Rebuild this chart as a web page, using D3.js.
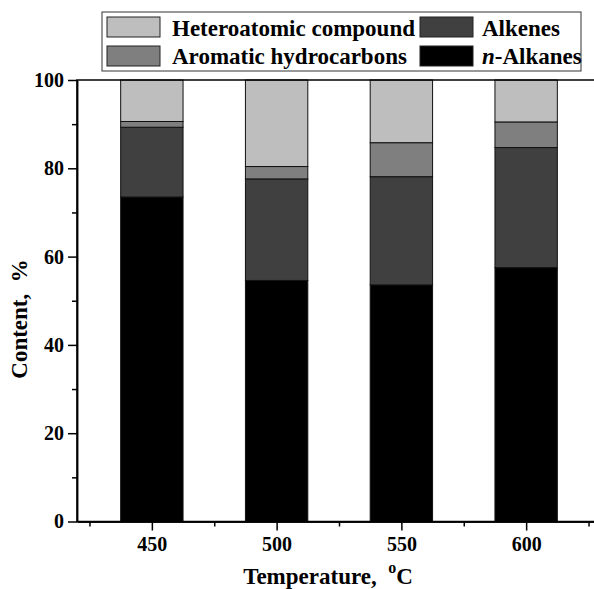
<!DOCTYPE html>
<html lang="en">
<head>
<meta charset="utf-8">
<title>Content vs temperature</title>
<script src="https://cdn.jsdelivr.net/npm/d3@7/dist/d3.min.js"></script>
<style>
  body { margin: 0; background: #fff; }
  svg text { font-family: "Liberation Serif", "Times New Roman", serif; font-weight: bold; fill: #000; }
  .axis text { font-size: 20px; }
  .axis path, .axis line { stroke: #000; stroke-width: 1.5; }
</style>
</head>
<body>
<script>
// data
var temperatures = [450, 500, 550, 600];
var nAlkanes   = [73.5, 54.6, 53.6, 57.5];
var alkenes    = [15.8, 23.0, 24.5, 27.2];
var aromatics  = [1.3, 2.8, 7.7, 5.8];
var hetero     = [9.4, 19.6, 14.2, 9.5];
var seriesKeys = ["nAlkanes", "alkenes", "aromatics", "hetero"];
var yTicks = [0, 20, 40, 60, 80, 100];
var yMinor = [10, 30, 50, 70, 90];
var xMinor = [425, 475, 525, 575, 625];

var width = 594, height = 589;
var plotLeft = 77, plotRight = 601, plotTop = 80, plotBottom = 521.5;
var barWidth = 25;

var colors = {
  hetero: "#bebebe",
  aromatics: "#7f7f7f",
  alkenes: "#404040",
  nAlkanes: "#000000"
};

var svg = d3.select("body").append("svg")
  .attr("width", width)
  .attr("height", height);

var x = d3.scaleLinear().domain([420, 630]).range([plotLeft, plotRight]);
var y = d3.scaleLinear().domain([0, 100]).range([plotBottom, plotTop]);

var table = temperatures.map(function(t, i) {
  return { t: t, nAlkanes: nAlkanes[i], alkenes: alkenes[i], aromatics: aromatics[i], hetero: hetero[i] };
});
var stacked = d3.stack().keys(seriesKeys)(table);

// bars
svg.selectAll("g.layer")
  .data(stacked)
  .enter().append("g")
  .attr("class", "layer")
  .attr("fill", function(d) { return colors[d.key]; })
  .selectAll("rect")
  .data(function(d) { return d; })
  .enter().append("rect")
  .attr("x", function(d) { return x(d.data.t - barWidth / 2); })
  .attr("width", function(d) { return x(d.data.t + barWidth / 2) - x(d.data.t - barWidth / 2); })
  .attr("y", function(d) { return y(d[1]); })
  .attr("height", function(d) { return y(d[0]) - y(d[1]); })
  .attr("stroke", "#111")
  .attr("stroke-width", 1);

// frame
svg.append("rect")
  .attr("x", plotLeft).attr("y", plotTop)
  .attr("width", plotRight - plotLeft).attr("height", plotBottom - plotTop)
  .attr("fill", "none").attr("stroke", "#000").attr("stroke-width", 1.5);

// x axis
svg.append("g").attr("class", "axis")
  .attr("transform", "translate(0," + plotBottom + ")")
  .call(d3.axisBottom(x).tickValues(temperatures).tickSize(9).tickSizeOuter(0).tickPadding(6).tickFormat(d3.format("d")));
svg.append("g").attr("class", "axis")
  .attr("transform", "translate(0," + plotBottom + ")")
  .call(d3.axisBottom(x).tickValues(xMinor).tickSize(5).tickSizeOuter(0).tickFormat(""));

// y axis
svg.append("g").attr("class", "axis")
  .attr("transform", "translate(" + plotLeft + ",0)")
  .call(d3.axisLeft(y).tickValues(yTicks).tickSize(9).tickSizeOuter(0).tickPadding(4));
svg.append("g").attr("class", "axis")
  .attr("transform", "translate(" + plotLeft + ",0)")
  .call(d3.axisLeft(y).tickValues(yMinor).tickSize(5).tickSizeOuter(0).tickFormat(""));

// axis titles
var xt = svg.append("text")
  .attr("x", 328).attr("y", 584)
  .attr("text-anchor", "middle")
  .style("font-size", "23px")
  .attr("xml:space", "preserve");
xt.append("tspan").text("Temperature,  ");
xt.append("tspan").attr("dy", -11).style("font-size", "16px").text("o");
xt.append("tspan").attr("dy", 11).text("C");

svg.append("text")
  .attr("transform", "translate(27,319) rotate(-90)")
  .attr("text-anchor", "middle")
  .style("font-size", "23px")
  .attr("xml:space", "preserve")
  .text("Content,  %");

// legend
var legend = svg.append("g");
legend.append("rect")
  .attr("x", 102).attr("y", 12).attr("width", 479).attr("height", 59)
  .attr("fill", "#fff").attr("stroke", "#333").attr("stroke-width", 1);

var legendItems = [
  { key: "hetero", label: "Heteroatomic compound", sx: 107, tx: 172, row: 0 },
  { key: "aromatics", label: "Aromatic hydrocarbons", sx: 107, tx: 172, row: 1 },
  { key: "alkenes", label: "Alkenes", sx: 420, tx: 482, row: 0 },
  { key: "nAlkanes", label: "-Alkanes", sx: 420, tx: 482, row: 1 }
];
legendItems.forEach(function(it) {
  legend.append("rect")
    .attr("x", it.sx).attr("y", 17 + it.row * 29)
    .attr("width", 53).attr("height", 20)
    .attr("fill", colors[it.key]).attr("stroke", "#222").attr("stroke-width", 1);
  var t = legend.append("text")
    .attr("x", it.tx).attr("y", 36 + it.row * 28)
    .style("font-size", "23px");
  if (it.key === "nAlkanes") {
    t.append("tspan").style("font-style", "italic").text("n");
  }
  t.append("tspan").text(it.label);
});
</script>
</body>
</html>
